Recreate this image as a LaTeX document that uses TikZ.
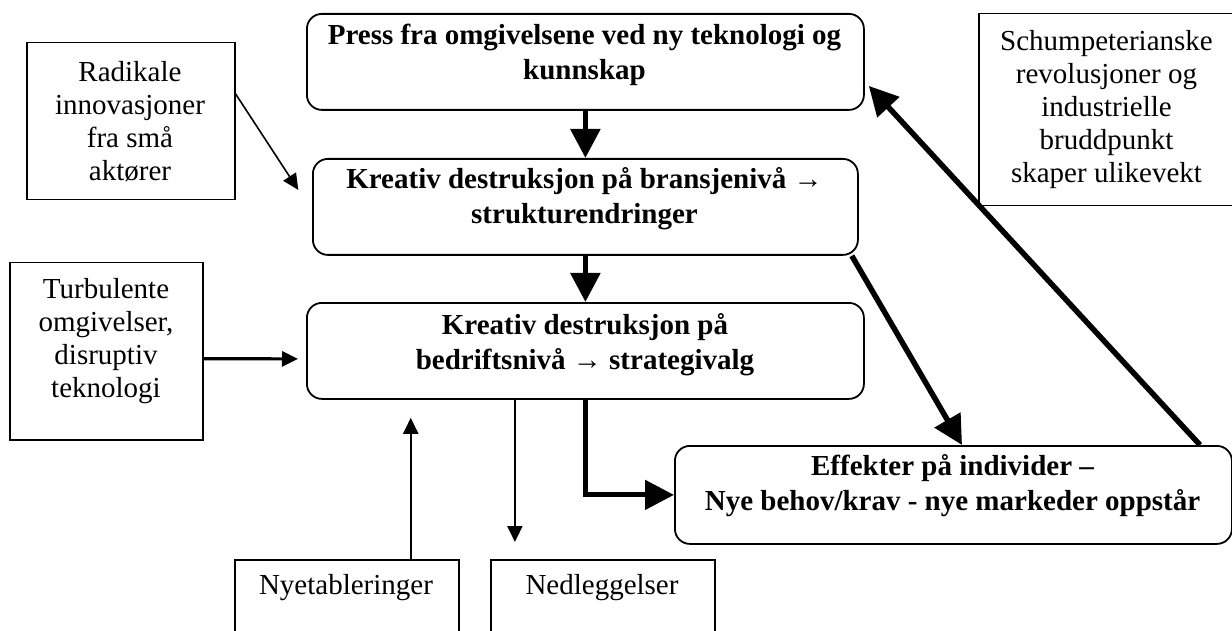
\documentclass[tikz,border=0pt]{standalone}
\usepackage{fontspec}
\setmainfont{Liberation Serif}
\usetikzlibrary{arrows.meta,calc}
\begin{document}
\begin{tikzpicture}[x=1pt,y=-1pt,
  rbox/.style={draw, line width=1.8pt, rounded corners=15pt, inner sep=0pt, anchor=north west},
  sbox/.style={draw, line width=1.5pt, inner sep=0pt, anchor=north west},
  txt/.style={font=\fontsize{29pt}{33pt}\selectfont, align=center, inner sep=0pt},
  btxt/.style={font=\fontsize{29pt}{35pt}\selectfont\bfseries, align=center, inner sep=0pt},
  bigarrow/.style={line width=5.5pt, -{Triangle[length=29pt,width=29pt]}},
  midarrow/.style={line width=3.2pt, -{Triangle[length=16pt,width=15pt]}},
  thinarrow/.style={line width=2pt, -{Triangle[length=16pt,width=15pt]}}
]
\useasboundingbox (0,0) rectangle (1232,631);

% boxes
\node[rbox, minimum width=557pt, minimum height=96pt] (P)  at (306,13) {};
\node[rbox, minimum width=545pt, minimum height=96pt] (K1) at (312,158) {};
\node[rbox, minimum width=557pt, minimum height=96pt] (K2) at (306,302) {};
\node[rbox, minimum width=557pt, minimum height=98pt] (E)  at (674,445) {};
\node[sbox, minimum width=208pt, minimum height=157pt] (R) at (26,42) {};
\node[sbox, minimum width=262pt, minimum height=192pt] (S) at (978,13) {};
\node[sbox, minimum width=193pt, minimum height=177pt] (T) at (9,262) {};
\node[sbox, minimum width=224pt, minimum height=95pt] (N1) at (234,559) {};
\node[sbox, minimum width=224pt, minimum height=95pt] (N2) at (490,559) {};

% texts
\node[btxt] (Pt)  at (584.5,54.5) {Press fra omgivelsene ved ny teknologi og\\kunnskap};
\node[btxt] (K1t) at (584.5,199) {Kreativ destruksjon på bransjenivå →\\strukturendringer};
\node[btxt] (K2t) at (585,344.5) {Kreativ destruksjon på\\bedriftsnivå → strategivalg};
\node[btxt] (Et)  at (952.5,485.5) {Effekter på individer –\\Nye behov/krav - nye markeder oppstår};
\node[txt] (Rt) at (130,122) {Radikale\\innovasjoner\\fra små\\aktører};
\node[txt] (St) at (1106.5,109.5) {Schumpeterianske\\revolusjoner og\\industrielle\\bruddpunkt\\skaper ulikevekt};
\node[txt] (Tt) at (106,341) {Turbulente\\omgivelser,\\disruptiv\\teknologi};
\node[txt] (N1t) at (346,588) {Nyetableringer};
\node[txt] (N2t) at (602,588) {Nedleggelser};

% connectors
\draw[bigarrow] (P.south) -- (K1.north);
\draw[bigarrow] (K1.south) -- (K2.north);
\draw[bigarrow] ($(K1.south east)+(-7,0)$) -- ($(E.north west)+(288,0)$);
\draw[bigarrow] ($(E.north west)+(526,0)$) -- ($(P.east)+(4,24)$);
\draw[bigarrow, line width=5pt] (K2.south) |- (E.west);
\draw[midarrow, shorten >=8pt] ($(T.east)+(0,7.5)$) -- ($(K2.west)+(0,8)$);
\draw[thinarrow, line width=1.6pt, shorten >=25pt] ($(R.east)+(0,-27.5)$) -- ($(K1.west)+(0,4)$);
\coordinate (n1a) at ($(N1.north)+(64,0)$);
\draw[thinarrow, line width=2.2pt, shorten >=18pt] (n1a) -- (n1a |- K2.south);
\coordinate (k2b) at ($(K2.south)+(-70.5,0)$);
\draw[thinarrow, shorten >=17pt] (k2b) -- (k2b |- N2.north);
\end{tikzpicture}
\end{document}
